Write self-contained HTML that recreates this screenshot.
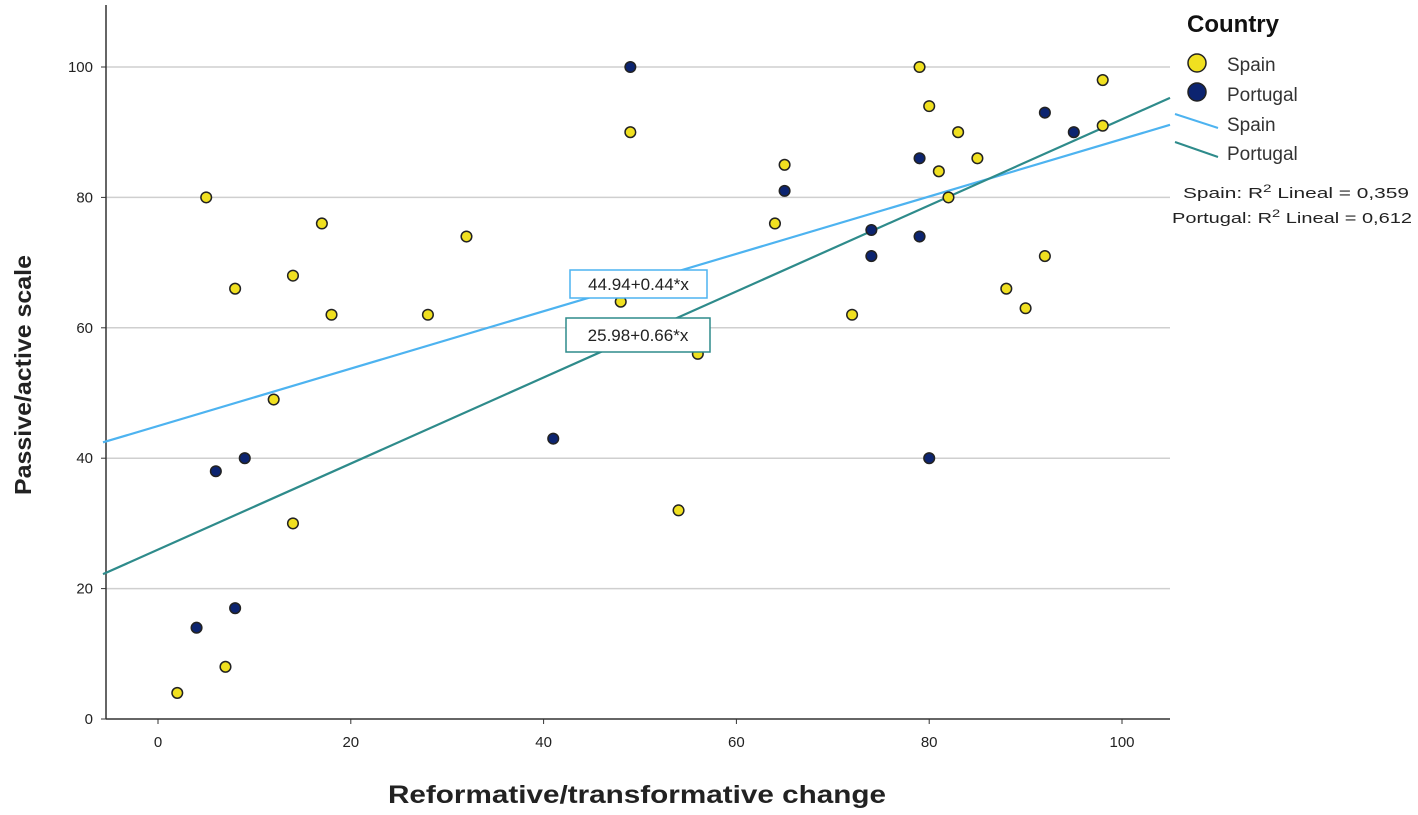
<!DOCTYPE html>
<html><head><meta charset="utf-8"><style>
html,body{margin:0;padding:0;background:#fff;}
svg{display:block;font-family:"Liberation Sans",Arial,sans-serif;}
</style></head><body>
<svg id="chart" width="1418" height="815" viewBox="0 0 1418 815" xmlns="http://www.w3.org/2000/svg"></svg>
<script>
const xTicks=[0,20,40,60,80,100];
const yTicks=[0,20,40,60,80,100];
const spainX=[2,5,8,7,12,14,14,17,18,28,32,48,49,54,56,64,65,72,79,80,81,82,83,85,88,90,92,98,98];
const spainY=[4,80,66,8,49,68,30,76,62,62,74,64,90,32,56,76,85,62,100,94,84,80,90,86,66,63,71,98,91];
const portX=[49,4,8,6,9,41,65,74,74,79,79,80,92,95];
const portY=[100,14,17,38,40,43,81,75,71,86,74,40,93,90];
const spainFit=[44.94,0.44];
const portFit=[25.98,0.66];

const NS="http://www.w3.org/2000/svg";
const svg=document.getElementById('chart');
const X=v=>158+v*9.64;
const Y=v=>719-v*6.52;
const L=106,R=1170,T=5,B=719;
function mk(tag,attrs,parent){const e=document.createElementNS(NS,tag);for(const k in attrs)e.setAttribute(k,attrs[k]);(parent||svg).appendChild(e);return e;}

const grid=mk('g',{});


yTicks.forEach(t=>{if(t>0)mk('line',{x1:L,x2:R,y1:Y(t),y2:Y(t),stroke:'#cfcfcf','stroke-width':1.5},grid);});

const ax=mk('g',{});


mk('line',{x1:L,x2:L,y1:T,y2:B,stroke:'#333','stroke-width':1.5},ax);
mk('line',{x1:L,x2:R,y1:B,y2:B,stroke:'#333','stroke-width':1.5},ax);
xTicks.forEach(t=>{
  mk('line',{x1:X(t),x2:X(t),y1:B,y2:B+5,stroke:'#333'},ax);
  const tx=mk('text',{x:X(t),y:B+28,'text-anchor':'middle','font-size':15,fill:'#222'},ax);tx.textContent=t;
  
  
});
yTicks.forEach(t=>{
  mk('line',{x1:L-5,x2:L,y1:Y(t),y2:Y(t),stroke:'#333'},ax);
  const tx=mk('text',{x:L-13,y:Y(t)+5,'text-anchor':'end','font-size':15,fill:'#222'},ax);tx.textContent=t;
  
  
});
const xt=mk('text',{x:388,y:803,'font-size':25,'font-weight':'bold',fill:'#222',textLength:498,lengthAdjust:'spacingAndGlyphs'});xt.textContent='Reformative/transformative change';


const yt=mk('text',{x:-120,y:0,'font-size':23,'font-weight':'bold',fill:'#222',textLength:240,lengthAdjust:'spacingAndGlyphs',transform:'translate(31,375) rotate(-90)'});yt.textContent='Passive/active scale';



function fitLine(f,color,name){
  const x0=(L-3-158)/9.64,x1=(R-158)/9.64;
  const l=mk('line',{x1:X(x0),y1:Y(f[0]+f[1]*x0),x2:X(x1),y2:Y(f[0]+f[1]*x1),stroke:color,'stroke-width':2.2});
  
  
}
fitLine(spainFit,'#4db3f0','spain-fit-line');
fitLine(portFit,'#2e8b8b','portugal-fit-line');

function pts(xs,ys,color,name){
  const g=mk('g',{});
  
  
  xs.forEach((x,i)=>{const c=mk('circle',{cx:X(x),cy:Y(ys[i]),r:5.3,fill:color,stroke:'#222','stroke-width':1.5},g);
    
    });
}
pts(spainX,spainY,'#f0e020','spain-points');
pts(portX,portY,'#0c2470','portugal-points');

function box(x,y,w,h,text,color,name){
  const g=mk('g',{});
  
  
  mk('rect',{x:x,y:y,width:w,height:h,fill:'#fff',stroke:color,'stroke-width':1.5},g);
  const t=mk('text',{x:x+w/2,y:y+h/2+6,'text-anchor':'middle','font-size':17,fill:'#222'},g);t.textContent=text;
}
box(570,270,137,28,'44.94+0.44*x','#4db3f0','spain-equation-label');
box(566,318,144,34,'25.98+0.66*x','#2e8b8b','portugal-equation-label');

const lg=mk('g',{});


const lt=mk('text',{x:1187,y:32,'font-size':24,'font-weight':'bold',fill:'#111'},lg);lt.textContent='Country';
mk('circle',{cx:1197,cy:63,r:9,fill:'#f0e020',stroke:'#222','stroke-width':1.5},lg);
mk('circle',{cx:1197,cy:92,r:9,fill:'#0c2470',stroke:'#222','stroke-width':1.5},lg);
mk('line',{x1:1175,y1:114,x2:1218,y2:128,stroke:'#4db3f0','stroke-width':2},lg);
mk('line',{x1:1175,y1:142,x2:1218,y2:157,stroke:'#2e8b8b','stroke-width':2},lg);
[['Spain',71],['Portugal',101],['Spain',131],['Portugal',160]].forEach(([s,y])=>{const t=mk('text',{x:1227,y:y,'font-size':19,fill:'#333'},lg);t.textContent=s;});
const r1=mk('text',{x:1183,y:198,'font-size':15,fill:'#222',textLength:226,lengthAdjust:'spacingAndGlyphs'},lg);r1.innerHTML='Spain: R<tspan font-size="11" dy="-6">2</tspan><tspan dy="6"> Lineal = 0,359</tspan>';
const r2=mk('text',{x:1172,y:223,'font-size':15,fill:'#222',textLength:240,lengthAdjust:'spacingAndGlyphs'},lg);r2.innerHTML='Portugal: R<tspan font-size="11" dy="-6">2</tspan><tspan dy="6"> Lineal = 0,612</tspan>';
</script>
</body></html>
